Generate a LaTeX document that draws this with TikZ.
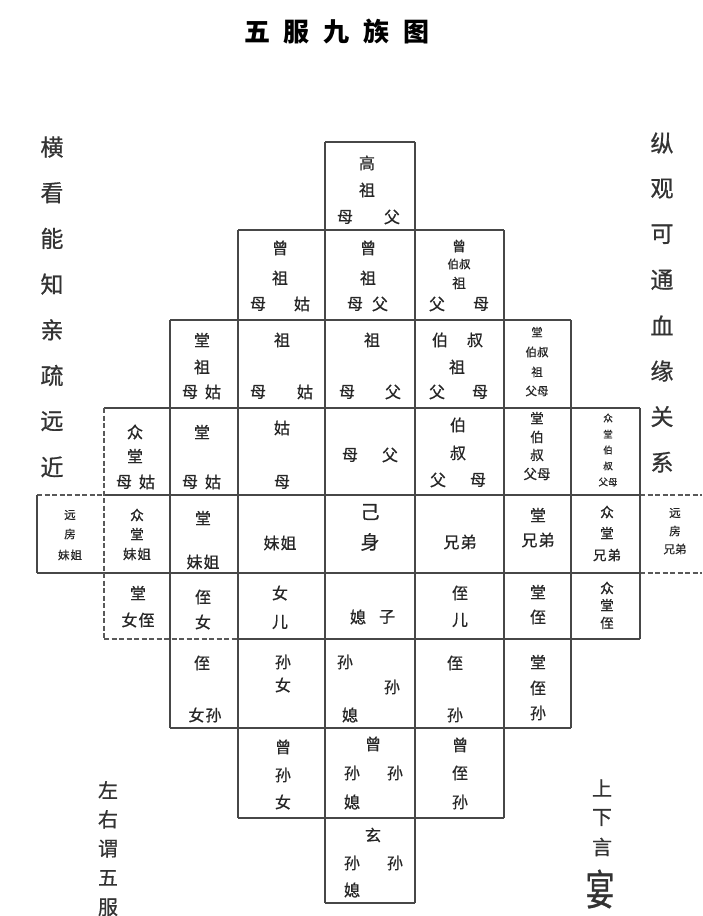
\documentclass[tikz,border=0pt]{standalone}
\usepackage{fontspec}
\newfontfamily\cjk[FakeBold=0.7]{Noto Sans CJK SC}
\newfontfamily\cjkt{Noto Sans CJK SC}
\newcounter{tn}
\newcommand\ch[4][tN]{\stepcounter{tn}\node[#1] (t\arabic{tn}) at (#2,#3) {#4};}
\begin{document}
\begin{tikzpicture}[x=1pt,y=-1pt,
  gl/.style={draw=black!72, line width=1.5pt},
  gd/.style={draw=black!65, line width=1.4pt, dash pattern=on 5pt off 2.5pt},
  txt/.style={inner sep=0pt, text=black!85},
  tN/.style={txt, font=\cjk\fontsize{16}{16}\selectfont},
  tB/.style={txt, font=\cjk\fontsize{19}{19}\selectfont},
  tM/.style={txt, font=\cjk\fontsize{13.5}{13.5}\selectfont},
  tS/.style={txt, font=\cjk\fontsize{11.5}{11.5}\selectfont},
  tX/.style={txt, font=\cjk\fontsize{9.5}{9.5}\selectfont},
  tL/.style={txt, text=black!80, font=\cjk\fontsize{23}{23}\selectfont},
  tC/.style={txt, text=black!80, font=\cjk\fontsize{20}{20}\selectfont},
  tT/.style={txt, text=black, font=\cjkt\bfseries\fontsize{26}{26}\selectfont}]
\fill[white] (0,0) rectangle (702,916);
\useasboundingbox (0,0) rectangle (702,916);
% title
\node[tT] (title) at (337,32) {五\hspace{14pt}服\hspace{14pt}九\hspace{14pt}族\hspace{14pt}图};
% grid: horizontal lines
\draw[gl] (325,142) -- (415,142);
\draw[gl] (238,230) -- (504,230);
\draw[gl] (170,320) -- (571,320);
\draw[gl] (104,408) -- (640,408);
\draw[gd] (37,495) -- (104,495);
\draw[gl] (104,495) -- (640,495);
\draw[gd] (640,495) -- (702,495);
\draw[gl] (37,573) -- (640,573);
\draw[gd] (640,573) -- (702,573);
\draw[gd] (104,639) -- (238,639);
\draw[gl] (238,639) -- (640,639);
\draw[gl] (170,728) -- (571,728);
\draw[gl] (238,818) -- (504,818);
\draw[gl] (325,903) -- (415,903);
% grid: vertical lines
\draw[gl] (37,495) -- (37,573);
\draw[gd] (104,408) -- (104,639);
\draw[gl] (170,320) -- (170,728);
\draw[gl] (238,230) -- (238,818);
\draw[gl] (325,142) -- (325,903);
\draw[gl] (415,142) -- (415,903);
\draw[gl] (504,230) -- (504,818);
\draw[gl] (571,320) -- (571,728);
\draw[gl] (640,408) -- (640,639);
% row 1
\ch{367}{163}{高}\ch{367}{190}{祖}\ch{345}{217}{母}\ch{392}{217}{父}
% row 2
\ch{280}{248}{曾}\ch{280}{278}{祖}\ch{258}{304}{母}\ch{302}{304}{姑}
\ch{368}{248}{曾}\ch{368}{278}{祖}\ch{355}{304}{母}\ch{380}{304}{父}
\ch[tM]{459}{246}{曾}\ch[tS]{459}{264}{伯叔}\ch[tM]{459}{283}{祖}\ch{437}{304}{父}\ch{481}{304}{母}
% row 3
\ch{202}{340}{堂}\ch{202}{367}{祖}\ch{190}{392}{母}\ch{213}{392}{姑}
\ch{282}{340}{祖}\ch{258}{392}{母}\ch{305}{392}{姑}
\ch{372}{340}{祖}\ch{347}{392}{母}\ch{393}{392}{父}
\ch{440}{340}{伯}\ch{475}{340}{叔}\ch{457}{367}{祖}\ch{437}{392}{父}\ch{480}{392}{母}
\ch[tS]{537}{332}{堂}\ch[tS]{537}{352}{伯叔}\ch[tS]{537}{372}{祖}\ch[tS]{537}{391}{父母}
% row 4
\ch{135}{432}{众}\ch{135}{456}{堂}\ch{124}{482}{母}\ch{147}{482}{姑}
\ch{202}{432}{堂}\ch{190}{482}{母}\ch{213}{482}{姑}
\ch{282}{428}{姑}\ch{282}{482}{母}
\ch{350}{455}{母}\ch{390}{455}{父}
\ch{458}{425}{伯}\ch{458}{453}{叔}\ch{438}{480}{父}\ch{478}{480}{母}
\ch[tM]{537}{418}{堂}\ch[tM]{537}{437}{伯}\ch[tM]{537}{455}{叔}\ch[tM]{537}{474}{父母}
\ch[tX]{608}{418}{众}\ch[tX]{608}{434}{堂}\ch[tX]{608}{450}{伯}\ch[tX]{608}{466}{叔}\ch[tX]{608}{482}{父母}
% row 5
\ch[tS]{70}{515}{远}\ch[tS]{70}{534}{房}\ch[tS]{70}{555}{妹\hspace{1pt}姐}
\ch[tM]{137}{515}{众}\ch[tM]{137}{534}{堂}\ch[tM]{137}{554}{妹\hspace{1pt}姐}
\ch{203}{518}{堂}\ch{203}{562}{妹\hspace{1pt}姐}
\ch{280}{543}{妹\hspace{1pt}姐}
\ch[tB]{370}{512}{己}\ch[tB]{370}{542}{身}
\ch{460}{542}{兄\hspace{1pt}弟}
\ch{538}{515}{堂}\ch{538}{540}{兄\hspace{1pt}弟}
\ch[tM]{607}{512}{众}\ch[tM]{607}{533}{堂}\ch[tM]{607}{555}{兄\hspace{1pt}弟}
\ch[tS]{675}{513}{远}\ch[tS]{675}{531}{房}\ch[tS]{675}{549}{兄弟}
% row 6
\ch{138}{593}{堂}\ch{138}{620}{女\hspace{1pt}侄}
\ch{203}{597}{侄}\ch{203}{622}{女}
\ch{280}{593}{女}\ch{280}{622}{儿}
\ch{358}{617}{媳}\ch{387}{617}{子}
\ch{460}{593}{侄}\ch{460}{620}{儿}
\ch{538}{592}{堂}\ch{538}{617}{侄}
\ch[tM]{607}{588}{众}\ch[tM]{607}{605}{堂}\ch[tM]{607}{623}{侄}
% row 7
\ch{202}{663}{侄}\ch{205}{715}{女\hspace{1pt}孙}
\ch{283}{662}{孙}\ch{283}{685}{女}
\ch{345}{662}{孙}\ch{392}{687}{孙}\ch{350}{715}{媳}
\ch{455}{663}{侄}\ch{455}{715}{孙}
\ch{538}{662}{堂}\ch{538}{688}{侄}\ch{538}{713}{孙}
% row 8
\ch{283}{747}{曾}\ch{283}{775}{孙}\ch{283}{802}{女}
\ch{373}{744}{曾}\ch{352}{773}{孙}\ch{395}{773}{孙}\ch{352}{802}{媳}
\ch{460}{745}{曾}\ch{460}{773}{侄}\ch{460}{802}{孙}
% row 9
\ch{373}{835}{玄}\ch{352}{863}{孙}\ch{395}{863}{孙}\ch{352}{890}{媳}
% side texts
\foreach \c [count=\i] in {横,看,能,知,亲,疏,远,近}
  {\node[tL] (l\i) at (52,{147+(\i-1)*45.7}) {\c};}
\foreach \c [count=\i] in {纵,观,可,通,血,缘,关,系}
  {\node[tL] (r\i) at (662,{143+(\i-1)*45.6}) {\c};}
\foreach \c [count=\i] in {左,右,谓,五,服}
  {\node[tC] (bl\i) at (108,{790+(\i-1)*29.3}) {\c};}
\foreach \c [count=\i] in {上,下,言}
  {\node[tC] (br\i) at (602,{788+(\i-1)*29.5}) {\c};}
\node[txt, text=black!80, font=\cjk\fontsize{26}{26}\selectfont] (br4) at (600,889) {\scalebox{1.1}[1.6]{宴}};
\end{tikzpicture}
\end{document}
